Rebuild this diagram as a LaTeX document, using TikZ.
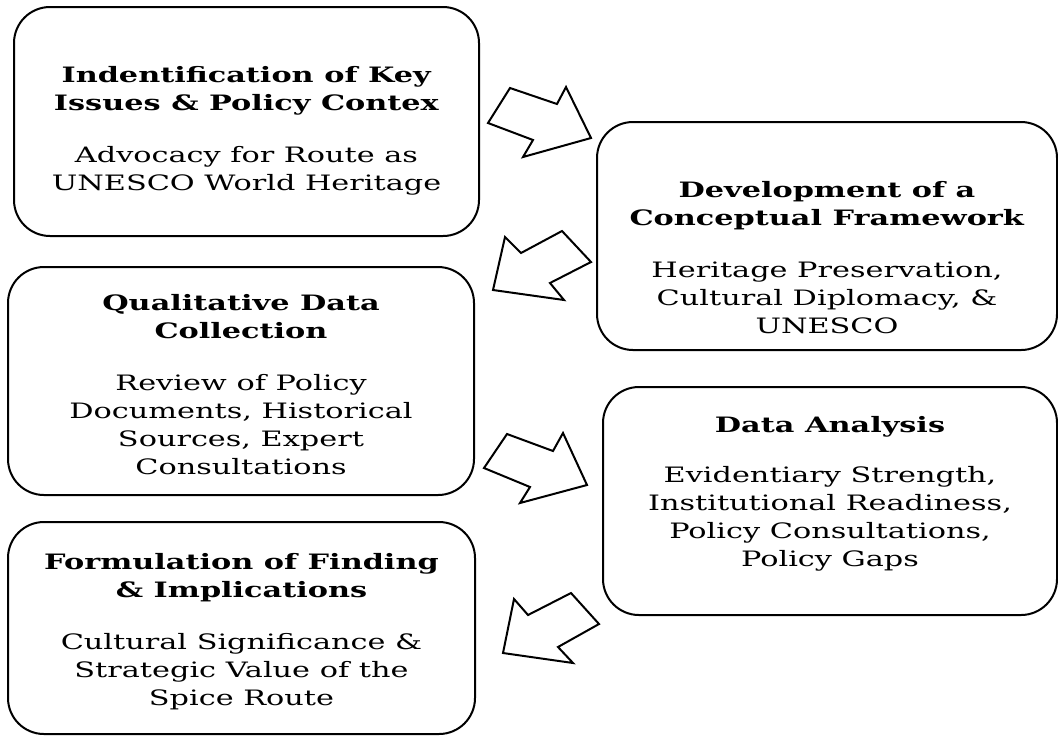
\documentclass[tikz,border=0pt]{standalone}
\usepackage{fontspec}
\setmainfont{DejaVu Serif}
\usetikzlibrary{positioning}

\tikzset{
  box/.style={draw,line width=1pt,rounded corners=18pt},
  txt/.style={align=center,inner sep=0pt,xscale=1.43,font=\fontsize{10.6}{14}\selectfont},
  blockarrow/.style={draw,fill=white,line width=1pt,line join=miter}
}

\begin{document}
\begin{tikzpicture}[x=0.5pt,y=-0.5pt]
\useasboundingbox (0,0) rectangle (1058,735);
% boxes
\node[box,minimum width=232.5pt,minimum height=114.5pt](ident)at(246.5,121.5){};
\node[box,minimum width=230pt,minimum height=114pt](frame)at(827,236){};
\node[box,minimum width=233pt,minimum height=114pt](collect)at(241,381){};
\node[box,minimum width=227pt,minimum height=114pt](analysis)at(830,501){};
\node[box,minimum width=233.5pt,minimum height=106pt](finding)at(241.5,628){};
% texts
\node[txt,anchor=north](identtxt)at(246.5,66){\textbf{Indentification of Key}\\\textbf{Issues \& Policy Contex}\\[12pt]
Advocacy for Route as\\UNESCO World Heritage};
\node[txt,anchor=north](frametxt)at(827,181){\textbf{Development of a}\\\textbf{Conceptual Framework}\\[12pt]
Heritage Preservation,\\Cultural Diplomacy, \&\\UNESCO};
\node[txt,anchor=north](collecttxt)at(241,294){\textbf{Qualitative Data}\\\textbf{Collection}\\[12pt]
Review of Policy\\Documents, Historical\\Sources, Expert\\Consultations};
\node[txt,anchor=north](analysistxt)at(830,416){\textbf{Data Analysis}\\[11pt]
Evidentiary Strength,\\Institutional Readiness,\\Policy Consultations,\\Policy Gaps};
\node[txt,anchor=north](findingtxt)at(241.5,553){\textbf{Formulation of Finding}\\\textbf{\& Implications}\\[12pt]
Cultural Significance \&\\Strategic Value of the\\Spice Route};
% block arrows
\draw[blockarrow](510,88)--(557,104)--(566,87)--(591,138)--(523,157)--(533,140)--(488,123)--cycle;
\draw[blockarrow](562,231)--(591,262)--(550,283)--(564,300)--(493,290)--(505,237)--(521,253)--cycle;
\draw[blockarrow](507,434)--(553,451)--(563,433)--(587,485)--(520,503)--(530,487)--(484,468)--cycle;
\draw[blockarrow](571,593)--(599,624)--(558,647)--(573,663)--(503,653)--(514,599)--(528,615)--cycle;
\end{tikzpicture}
\end{document}
